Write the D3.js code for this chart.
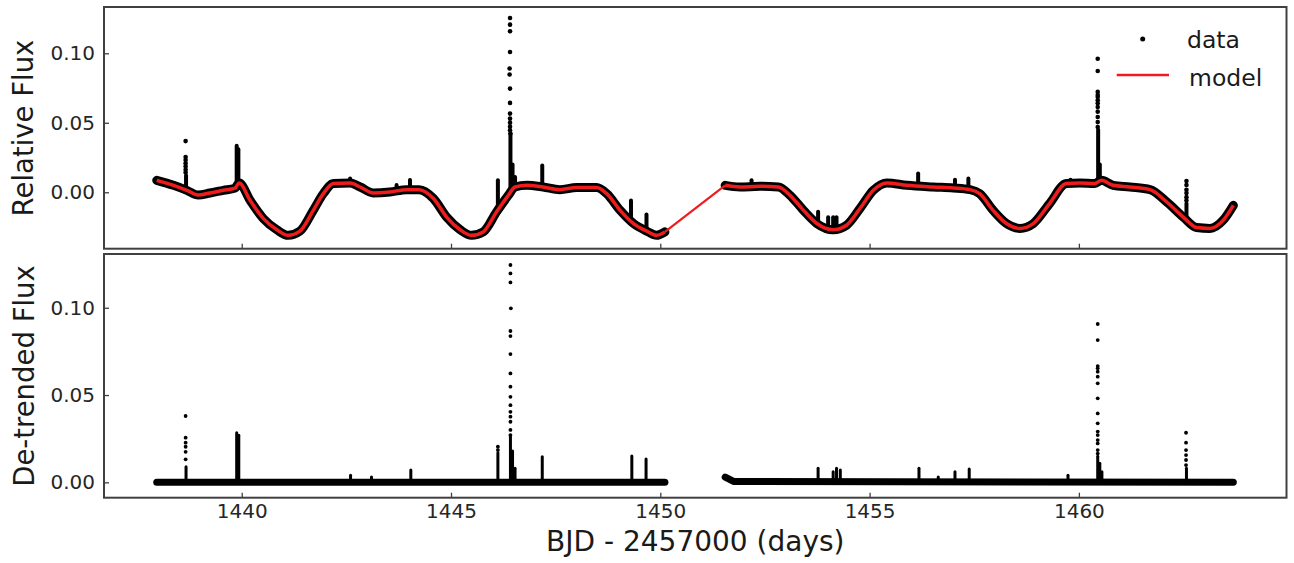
<!DOCTYPE html>
<html>
<head>
<meta charset="utf-8">
<script src="https://cdn.jsdelivr.net/npm/d3@7"></script>
<style>
  body { margin: 0; background: #fff; }
  svg text { font-family: "DejaVu Sans", sans-serif; }
</style>
</head>
<body>
<div id="chart"></div>
<script>
const svg_width = 1294;
const svg_height = 563;

const xTicks = [1440, 1445, 1450, 1455, 1460];
const yTicks = [0.00, 0.05, 0.10];

// trend model [BJD-2457000, relative flux], before and after the data gap
const modelA = [
  [1437.97, 0.0086], [1438.37, 0.0050], [1438.69, 0.0014], [1438.96, -0.0020],
  [1439.24, -0.0005], [1439.56, 0.0014], [1439.84, 0.0030], [1439.94, 0.0067],
  [1440.20, -0.0058], [1440.52, -0.0190], [1440.84, -0.0270], [1441.11, -0.0310],
  [1441.39, -0.0280], [1441.71, -0.0130], [1441.95, -0.0010], [1442.19, 0.0063],
  [1442.59, 0.0067], [1442.83, 0.0038], [1443.14, -0.0005], [1443.54, 0.0002],
  [1443.94, 0.0019], [1444.24, 0.0018], [1444.58, -0.0045], [1444.90, -0.0180],
  [1445.22, -0.0270], [1445.49, -0.0310], [1445.77, -0.0285], [1446.09, -0.0140],
  [1446.37, -0.0022], [1446.53, 0.0038], [1446.81, 0.0050], [1447.20, 0.0038],
  [1447.60, 0.0019], [1448.00, 0.0034], [1448.48, 0.0034], [1448.72, -0.0010],
  [1449.04, -0.0130], [1449.36, -0.0225], [1449.68, -0.0280], [1449.91, -0.0310],
  [1450.11, -0.0285]
];
const modelB = [
  [1451.55, 0.0050], [1451.90, 0.0038], [1452.38, 0.0043], [1452.82, 0.0038],
  [1453.10, -0.0022], [1453.42, -0.0130], [1453.74, -0.0225], [1454.13, -0.0270],
  [1454.45, -0.0237], [1454.77, -0.0117], [1455.09, 0.0014], [1455.41, 0.0067],
  [1455.89, 0.0050], [1456.52, 0.0038], [1457.00, 0.0031], [1457.40, 0.0019],
  [1457.63, -0.0010], [1457.95, -0.0130], [1458.27, -0.0225], [1458.59, -0.0260],
  [1458.91, -0.0225], [1459.30, -0.0081], [1459.70, 0.0063], [1460.02, 0.0067],
  [1460.38, 0.0063], [1460.54, 0.0086], [1460.82, 0.0050], [1461.22, 0.0038],
  [1461.70, 0.0019], [1462.10, -0.0070], [1462.50, -0.0180], [1462.81, -0.0254],
  [1463.13, -0.0260], [1463.45, -0.0200], [1463.69, -0.0094]
];

// single flare points, relative flux
const topDots = [
  [1438.66, 0.0368], [1438.66, 0.0254], [1438.66, 0.0232], [1438.66, 0.0208],
  [1438.66, 0.0186], [1438.66, 0.0162], [1438.66, 0.0142],
  [1446.41, 0.1254], [1446.41, 0.1206], [1446.41, 0.1158], [1446.41, 0.1009],
  [1446.40, 0.0890], [1446.40, 0.0847], [1446.41, 0.0746], [1446.41, 0.0643],
  [1446.41, 0.0566], [1446.41, 0.0530], [1446.41, 0.0501], [1446.41, 0.0472],
  [1446.41, 0.0446], [1446.42, 0.0422],
  [1460.45, 0.0961], [1460.45, 0.0873], [1460.45, 0.0722], [1460.45, 0.0700],
  [1460.45, 0.0686], [1460.45, 0.0662], [1460.45, 0.0640], [1460.45, 0.0614],
  [1460.45, 0.0580], [1460.45, 0.0542], [1460.45, 0.0505], [1460.45, 0.0470],
  [1462.57, 0.0081], [1462.57, 0.0052], [1462.57, 0.0018], [1462.57, -0.0006],
  [1462.57, -0.0035], [1462.57, -0.0059]
];
// dense stacks of flare points, [time, low, high], relative flux
const topRuns = [
  [1438.67, 0.0030, 0.0120],
  [1439.88, 0.0040, 0.0335], [1439.92, 0.0050, 0.0310],
  [1442.59, 0.0050, 0.0099], [1443.70, 0.0010, 0.0052], [1444.02, 0.0020, 0.0088],
  [1446.12, -0.0100, 0.0086],
  [1446.42, 0.0040, 0.0420], [1446.47, 0.0040, 0.0200], [1446.53, 0.0040, 0.0110],
  [1447.18, 0.0040, 0.0192],
  [1449.30, -0.0200, -0.0060], [1449.67, -0.0260, -0.0160],
  [1452.18, 0.0040, 0.0086],
  [1453.77, -0.0220, -0.0140], [1454.01, -0.0250, -0.0180], [1454.13, -0.0250, -0.0180],
  [1454.21, -0.0250, -0.0180],
  [1456.16, 0.0040, 0.0135], [1457.04, 0.0030, 0.0090], [1457.36, 0.0020, 0.0099],
  [1459.80, 0.0060, 0.0090],
  [1460.46, 0.0080, 0.0450], [1460.50, 0.0080, 0.0200],
  [1462.57, -0.0190, -0.0080]
];

// de-trended flux: flat band, then flares
const detrendA = [[1437.97, 0.0], [1450.11, 0.0]];
const detrendB = [[1451.55, 0.0030], [1451.75, 0.0005], [1463.69, 0.0]];

const botDots = [
  [1438.66, 0.0380], [1438.66, 0.0256], [1438.66, 0.0227], [1438.66, 0.0204],
  [1438.66, 0.0175], [1438.66, 0.0132],
  [1446.12, 0.0204], [1446.12, 0.0185],
  [1446.42, 0.1245], [1446.42, 0.1197], [1446.42, 0.1145], [1446.43, 0.0997],
  [1446.42, 0.0867], [1446.42, 0.0838], [1446.42, 0.0735], [1446.42, 0.0624],
  [1446.42, 0.0548], [1446.42, 0.0490], [1446.42, 0.0442], [1446.42, 0.0404],
  [1446.42, 0.0376], [1446.42, 0.0347], [1446.42, 0.0300], [1446.42, 0.0271],
  [1460.45, 0.0907], [1460.45, 0.0815], [1460.45, 0.0666], [1460.45, 0.0653],
  [1460.45, 0.0634], [1460.45, 0.0605], [1460.45, 0.0567], [1460.45, 0.0481],
  [1460.45, 0.0395], [1460.45, 0.0338], [1460.45, 0.0291], [1460.45, 0.0271],
  [1460.45, 0.0242], [1460.45, 0.0223], [1460.45, 0.0185], [1460.45, 0.0165],
  [1462.56, 0.0284], [1462.56, 0.0227], [1462.56, 0.0185], [1462.56, 0.0156],
  [1462.56, 0.0128], [1462.56, 0.0099]
];
const botRuns = [
  [1438.67, 0.0, 0.0090],
  [1439.88, 0.0, 0.0284], [1439.93, 0.0, 0.0270],
  [1442.60, 0.0, 0.0040], [1443.10, 0.0, 0.0030], [1444.04, 0.0, 0.0070],
  [1446.12, 0.0, 0.0170],
  [1446.42, 0.0, 0.0270], [1446.47, 0.0, 0.0180], [1446.53, 0.0, 0.0080],
  [1447.18, 0.0, 0.0147],
  [1449.32, 0.0, 0.0151], [1449.66, 0.0, 0.0133],
  [1453.77, 0.0, 0.0080], [1454.13, 0.0, 0.0060], [1454.21, 0.0, 0.0080], [1454.30, 0.0, 0.0070],
  [1456.18, 0.0, 0.0080], [1456.64, 0.0, 0.0030], [1457.04, 0.0, 0.0060], [1457.38, 0.0, 0.0076],
  [1459.74, 0.0, 0.0040],
  [1460.45, 0.0, 0.0150], [1460.50, 0.0, 0.0110], [1460.55, 0.0, 0.0060],
  [1462.57, 0.0, 0.0080]
];

const frameColor = "#404040";
const textColor = "#262626";
const modelColor = "#ee1c1c";

let svg = d3.select("#chart")
  .append("svg")
    .attr("width", svg_width)
    .attr("height", svg_height);

const plotL = 104, plotR = 1286.5;
const topY0 = 7, topY1 = 248.7;
const botY0 = 254, botY1 = 497.7;

const x = d3.scaleLinear().domain([1436.71, 1464.96]).range([plotL, plotR]);
const yTop = d3.scaleLinear().domain([-0.0406, 0.1333]).range([topY1, topY0]);
const yBot = d3.scaleLinear().domain([-0.0088, 0.1308]).range([botY1, botY0]);

function drawPanel(y, band, bandCurve, runs, dots, r, runWidth, bandWidth) {
  let g = svg.append("g");
  let bandLine = d3.line().x(d => x(d[0])).y(d => y(d[1])).curve(bandCurve);
  band.forEach(seg => {
    g.append("path")
      .attr("d", bandLine(seg))
      .attr("fill", "none")
      .attr("stroke", "#000")
      .attr("stroke-width", bandWidth)
      .attr("stroke-linecap", "round")
      .attr("stroke-linejoin", "round");
  });
  g.selectAll(".run").data(runs).enter().append("line")
    .attr("x1", d => x(d[0])).attr("x2", d => x(d[0]))
    .attr("y1", d => y(d[1])).attr("y2", d => y(d[2]))
    .attr("stroke", "#000")
    .attr("stroke-width", runWidth)
    .attr("stroke-linecap", "round");
  g.selectAll(".dot").data(dots).enter().append("circle")
    .attr("cx", d => x(d[0]))
    .attr("cy", d => y(d[1]))
    .attr("r", r)
    .attr("fill", "#000");
  return g;
}

function drawAxes(y, y0, y1, withLabels) {
  let gx = svg.append("g")
    .attr("transform", `translate(0,${y1})`)
    .call(d3.axisBottom(x).tickValues(xTicks).tickSize(-5).tickSizeOuter(0).tickPadding(6)
      .tickFormat(withLabels ? d3.format("d") : () => ""));
  let gy = svg.append("g")
    .attr("transform", `translate(${plotL},0)`)
    .call(d3.axisLeft(y).tickValues(yTicks).tickSize(-5).tickSizeOuter(0).tickPadding(9)
      .tickFormat(d3.format(".2f")));
  [gx, gy].forEach(g => {
    g.attr("font-size", 20).attr("font-family", "DejaVu Sans, sans-serif");
    g.select(".domain").remove();
    g.selectAll(".tick line").attr("stroke", frameColor).attr("stroke-width", 1.3);
    g.selectAll(".tick text").attr("fill", textColor);
  });
  svg.append("rect")
    .attr("x", plotL).attr("y", y0)
    .attr("width", plotR - plotL).attr("height", y1 - y0)
    .attr("fill", "none")
    .attr("stroke", frameColor)
    .attr("stroke-width", 2);
}

// top panel: data + model
drawPanel(yTop, [modelA, modelB], d3.curveMonotoneX, topRuns, topDots, 2.3, 4, 9);

let modelLine = d3.line().x(d => x(d[0])).y(d => yTop(d[1])).curve(d3.curveMonotoneX);
[modelA, modelB].forEach(seg => {
  svg.append("path")
    .attr("d", modelLine(seg))
    .attr("fill", "none")
    .attr("stroke", modelColor)
    .attr("stroke-width", 3.5)
    .attr("stroke-linejoin", "round");
});
// model across the gap
svg.append("path")
  .attr("d", d3.line().x(d => x(d[0])).y(d => yTop(d[1]))([modelA[modelA.length - 1], modelB[0]]))
  .attr("fill", "none")
  .attr("stroke", modelColor)
  .attr("stroke-width", 2.2);

drawAxes(yTop, topY0, topY1, false);

// bottom panel: de-trended
drawPanel(yBot, [detrendA, detrendB], d3.curveLinear, botRuns, botDots, 1.9, 3, 7);
drawAxes(yBot, botY0, botY1, true);

// axis titles
svg.append("text")
  .attr("transform", "translate(33,128) rotate(-90)")
  .attr("text-anchor", "middle")
  .attr("fill", "#1a1a1a")
  .style("font-size", "27.5px")
  .text("Relative Flux");
svg.append("text")
  .attr("transform", "translate(34,376) rotate(-90)")
  .attr("text-anchor", "middle")
  .attr("fill", "#1a1a1a")
  .style("font-size", "27.5px")
  .text("De-trended Flux");
svg.append("text")
  .attr("x", (plotL + plotR) / 2)
  .attr("y", 551)
  .attr("text-anchor", "middle")
  .attr("fill", "#1a1a1a")
  .style("font-size", "28px")
  .text("BJD - 2457000 (days)");

// legend
let legend = svg.append("g");
legend.append("circle").attr("cx", 1142.7).attr("cy", 39).attr("r", 2.5).attr("fill", "#000");
legend.append("text").attr("x", 1187).attr("y", 48).attr("fill", "#1a1a1a")
  .style("font-size", "23.5px").text("data");
legend.append("line").attr("x1", 1116.7).attr("x2", 1169).attr("y1", 75).attr("y2", 75)
  .attr("stroke", modelColor).attr("stroke-width", 2.5);
legend.append("text").attr("x", 1189).attr("y", 85.5).attr("fill", "#1a1a1a")
  .style("font-size", "23.5px").text("model");
</script>
</body>
</html>
